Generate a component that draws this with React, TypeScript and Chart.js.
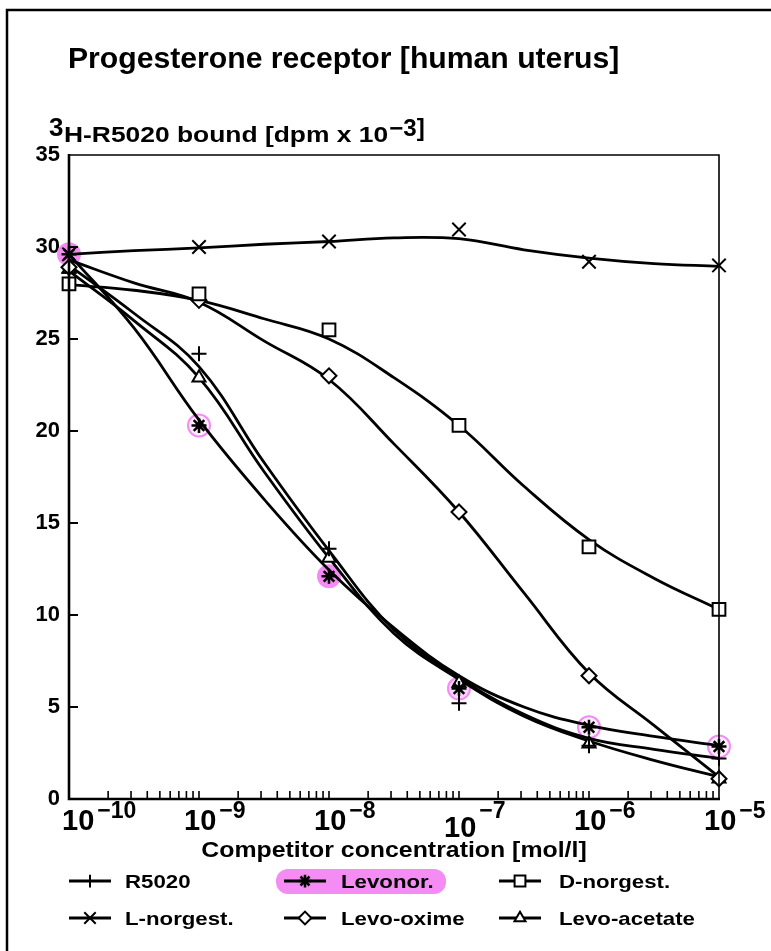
import React, { useEffect, useRef } from 'react';
import { Chart, registerables } from 'chart.js';
import { drawPoint } from 'chart.js/helpers';

Chart.register(...registerables);

// ---------- data ----------
const DOSES = [1e-10, 1e-9, 1e-8, 1e-7, 1e-6, 1e-5];
const CURVE_DOSES = [1e-10, 3.16e-10, 1e-9, 3.16e-9, 1e-8, 3.16e-8, 1e-7, 3.16e-7, 1e-6, 3.16e-6, 1e-5];
const X_TICK_EXPONENTS = [-10, -9, -8, -7, -6, -5];
const Y_STEP = 5;

// measured points (3H-R5020 bound, dpm x 10^-3)
const R5020_POINTS = [28.6, 24.2, 13.6, 5.2, 2.9, 2.2];
const LEVONOR_POINTS = [29.6, 20.3, 12.1, 6.0, 3.9, 2.85];
const DNORGEST_POINTS = [28.0, 27.45, 25.5, 20.3, 13.7, 10.3];
const LNORGEST_POINTS = [29.6, 30.0, 30.3, 30.95, 29.2, 29.0];
const LEVOOXIME_POINTS = [28.9, 27.1, 23.0, 15.6, 6.7, 1.1];
const LEVOACETATE_POINTS = [28.8, 22.9, 13.1, 6.3, 3.0, 1.1];

// fitted curves, read at half-decade steps
const R5020_CURVE = [29.0, 26.4, 23.5, 18.3, 13.5, 9.2, 6.6, 4.6, 3.3, 2.7, 2.2];
const LEVONOR_CURVE = [29.6, 25.6, 20.6, 16.3, 12.45, 9.3, 6.7, 5.0, 4.0, 3.4, 2.9];
const DNORGEST_CURVE = [27.95, 27.65, 27.1, 26.1, 25.0, 22.9, 20.3, 17.0, 14.1, 12.0, 10.3];
const LNORGEST_CURVE = [29.6, 29.8, 29.95, 30.15, 30.3, 30.5, 30.45, 29.85, 29.4, 29.1, 28.95];
const LEVOOXIME_CURVE = [29.3, 28.05, 27.0, 24.9, 22.8, 19.3, 15.6, 11.2, 6.85, 4.0, 1.2];
const LEVOACETATE_CURVE = [28.7, 26.0, 22.9, 17.8, 13.1, 9.0, 6.5, 4.5, 3.15, 2.1, 1.2];

const LABELS = ['R5020', 'Levonor.', 'D-norgest.', 'L-norgest.', 'Levo-oxime', 'Levo-acetate'];

const FONT = '"Liberation Sans", Arial, Helvetica, sans-serif';
const PINK = '#f48cf4';

type Series = { label: string; points: number[]; curve: number[]; style: string; radius: number; fill: string; bw: number };

const SERIES: Series[] = [
  { label: LABELS[0], points: R5020_POINTS, curve: R5020_CURVE, style: 'cross', radius: 7.5, fill: '#000', bw: 2 },
  { label: LABELS[1], points: LEVONOR_POINTS, curve: LEVONOR_CURVE, style: 'star', radius: 7.5, fill: '#000', bw: 2.5 },
  { label: LABELS[2], points: DNORGEST_POINTS, curve: DNORGEST_CURVE, style: 'rect', radius: 9, fill: '#fff', bw: 2 },
  { label: LABELS[3], points: LNORGEST_POINTS, curve: LNORGEST_CURVE, style: 'crossRot', radius: 9.5, fill: '#000', bw: 2 },
  { label: LABELS[4], points: LEVOOXIME_POINTS, curve: LEVOOXIME_CURVE, style: 'rectRot', radius: 7.5, fill: '#fff', bw: 2 },
  { label: LABELS[5], points: LEVOACETATE_POINTS, curve: LEVOACETATE_CURVE, style: 'triangle', radius: 7.5, fill: '#fff', bw: 2 },
];

function txt(ctx: CanvasRenderingContext2D, s: string, x: number, y: number, size: number, align: CanvasTextAlign = 'left', stretch = 1) {
  ctx.save();
  ctx.font = `bold ${size}px ${FONT}`;
  ctx.fillStyle = '#000';
  ctx.textBaseline = 'alphabetic';
  ctx.textAlign = align;
  ctx.translate(x, y);
  ctx.scale(stretch, 1);
  ctx.fillText(s, 0, 0);
  ctx.restore();
}
function txtWidth(ctx: CanvasRenderingContext2D, s: string, size: number, stretch = 1) {
  ctx.save();
  ctx.font = `bold ${size}px ${FONT}`;
  const w = ctx.measureText(s).width * stretch;
  ctx.restore();
  return w;
}

const decorPlugin = {
  id: 'decor',
  afterDraw(chart: any) {
    const ctx: CanvasRenderingContext2D = chart.ctx;
    const { left, right, top, bottom } = chart.chartArea;
    const xs = chart.scales.x;
    const ys = chart.scales.y;

    ctx.save();
    ctx.strokeStyle = '#000';
    ctx.lineCap = 'butt';
    // outer figure frame (top + left visible)
    ctx.lineWidth = 2.5;
    ctx.beginPath();
    ctx.moveTo(7, 951);
    ctx.lineTo(7, 10);
    ctx.lineTo(771, 10);
    ctx.stroke();

    // plot frame
    ctx.lineWidth = 1.6;
    ctx.beginPath();
    ctx.moveTo(left, top);
    ctx.lineTo(right, top);
    ctx.lineTo(right, bottom);
    ctx.stroke();
    ctx.lineWidth = 2.6;
    ctx.beginPath();
    ctx.moveTo(left, top - 1);
    ctx.lineTo(left, bottom);
    ctx.lineTo(right + 1, bottom);
    ctx.stroke();

    // inward y ticks
    ctx.lineWidth = 2;
    for (let v = Y_STEP; v < 35; v += Y_STEP) {
      const y = ys.getPixelForValue(v);
      ctx.beginPath();
      ctx.moveTo(left, y);
      ctx.lineTo(left + 9, y);
      ctx.stroke();
    }
    // inward x ticks (log minor ticks)
    ctx.lineWidth = 1.6;
    for (let e = -10; e < -5; e++) {
      for (let m = 1; m <= 9; m++) {
        if (e === -10 && m === 1) continue;
        const x = xs.getPixelForValue(m * Math.pow(10, e));
        ctx.beginPath();
        ctx.moveTo(x, bottom);
        ctx.lineTo(x, bottom - 8);
        ctx.stroke();
      }
    }
    ctx.restore();

    // x tick labels with superscript exponents
    X_TICK_EXPONENTS.forEach((e, i) => {
      const px = xs.getPixelForValue(Math.pow(10, e));
      const start = i === 0 ? px - 7 : px - 15;
      const drop = e === -7 ? 7 : 0;
      txt(ctx, '10', start, 830 + drop, 29);
      const w = txtWidth(ctx, '10', 29);
      txt(ctx, '\u2212' + String(-e), start + w + 3, 818, 23);
    });

    // title
    txt(ctx, 'Progesterone receptor [human uterus]', 68, 68, 29, 'left', 1.04);

    // y-axis title
    txt(ctx, '3', 49, 136, 26);
    const yMain = 'H-R5020 bound [dpm x 10';
    txt(ctx, yMain, 64, 142, 22, 'left', 1.2);
    const wMain = txtWidth(ctx, yMain, 22, 1.2);
    txt(ctx, '\u22123]', 64 + wMain + 1, 136, 23, 'left', 1.05);

    // x-axis title
    txt(ctx, 'Competitor concentration [mol/l]', 394, 857, 22, 'center', 1.13);

    // legend
    const colMarker = [90, 305, 520];
    const colText = [125, 341, 559];
    const rowY = [881, 918];
    // highlight pill for Levonor.
    ctx.save();
    ctx.fillStyle = PINK;
    ctx.beginPath();
    (ctx as any).roundRect(276, 869, 170, 25, 12);
    ctx.fill();
    ctx.restore();
    SERIES.forEach((s, i) => {
      const c = i % 3;
      const r = Math.floor(i / 3);
      const cx = colMarker[c];
      const cy = rowY[r];
      ctx.save();
      ctx.strokeStyle = '#000';
      ctx.lineWidth = 2.8;
      ctx.beginPath();
      ctx.moveTo(cx - 21, cy);
      ctx.lineTo(cx + 21, cy);
      ctx.stroke();
      ctx.fillStyle = s.fill === '#000' ? '#000' : (i === 1 ? PINK : '#fff');
      ctx.lineWidth = s.bw;
      drawPoint(ctx, { pointStyle: s.style as any, rotation: 0, radius: s.radius * 0.85, borderWidth: s.bw }, cx, cy);
      ctx.restore();
      txt(ctx, s.label, colText[c], cy + 7, 19, 'left', 1.17);
    });
  },
};

export default function App() {
  const ref = useRef<HTMLCanvasElement>(null);
  useEffect(() => {
    const canvas = ref.current;
    if (!canvas) return;
    const datasets: any[] = [];
    SERIES.forEach((s) => {
      datasets.push({
        label: s.label + ' points',
        data: DOSES.map((x, i) => ({ x, y: s.points[i] })),
        showLine: false,
        pointStyle: s.style,
        pointRadius: s.radius,
        pointBorderWidth: s.bw,
        pointBorderColor: '#000',
        pointBackgroundColor: s.fill,
        clip: false,
      });
    });
    SERIES.forEach((s) => {
      datasets.push({
        label: s.label + ' fit',
        data: CURVE_DOSES.map((x, i) => ({ x, y: s.curve[i] })),
        showLine: true,
        borderColor: '#000',
        borderWidth: 2.8,
        pointRadius: 0,
        tension: 0.4,
        fill: false,
        clip: false,
      });
    });
    // pink highlights around the Levonor. points (drawn beneath)
    datasets.push({
      label: 'Levonor. highlight',
      data: DOSES.map((x, i) => ({ x, y: LEVONOR_POINTS[i] })),
      showLine: false,
      pointStyle: 'circle',
      pointRadius: 11,
      pointBorderWidth: 2,
      pointBorderColor: PINK,
      pointBackgroundColor: [
        'rgba(240,110,240,0.8)',
        'rgba(240,110,240,0.12)',
        'rgba(240,110,240,0.8)',
        'rgba(240,110,240,0.3)',
        'rgba(240,110,240,0.12)',
        'rgba(240,110,240,0.12)',
      ],
      clip: false,
    });

    const chart = new Chart(canvas, {
      type: 'scatter',
      data: { datasets },
      options: {
        responsive: false,
        animation: false,
        devicePixelRatio: 1,
        layout: { padding: { top: 155, right: 52, left: 0, bottom: 0 } },
        plugins: { legend: { display: false }, tooltip: { enabled: false }, title: { display: false } },
        scales: {
          x: {
            type: 'logarithmic',
            min: 1e-10,
            max: 1e-5,
            grid: { display: false, drawTicks: false },
            border: { display: false },
            ticks: { display: false },
            afterFit: (s: any) => { s.height = 152; },
          },
          y: {
            type: 'linear',
            min: 0,
            max: 35,
            grid: { display: false, drawTicks: false },
            border: { display: false },
            ticks: {
              stepSize: Y_STEP,
              padding: 9,
              color: '#000',
              font: { family: FONT, size: 22, weight: 'bold' },
            },
            afterFit: (s: any) => { s.width = 69; },
          },
        },
      } as any,
      plugins: [decorPlugin],
    });
    return () => chart.destroy();
  }, []);
  return (
    <div style={{ position: 'absolute', left: 0, top: 0, width: 771, height: 951, background: '#fff' }}>
      <canvas ref={ref} width={771} height={951} style={{ display: 'block', width: 771, height: 951 }} />
    </div>
  );
}
